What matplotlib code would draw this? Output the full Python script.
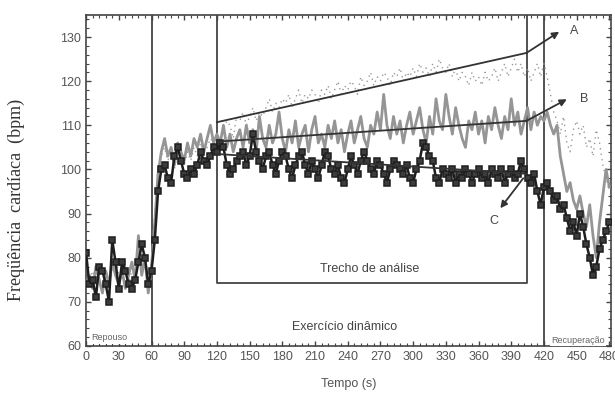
import matplotlib
matplotlib.use('Agg')
import matplotlib.pyplot as plt
from matplotlib.ticker import MultipleLocator
import numpy as np

# tempo (s), uma amostra a cada 3 s
tempo = np.arange(0, 481, 3)

# serie C - quadrados pretos
fc_C = [81, 74, 75, 71, 78, 77, 74, 70, 84, 79,
        73, 79, 77, 74, 73, 75, 79, 83, 80, 74,
        77, 84, 95, 100, 101, 98, 97, 103, 105, 102,
        99, 98, 100, 99, 101, 104, 102, 101, 103, 105,
        104, 106, 105, 101, 99, 100, 102, 103, 104, 101,
        103, 108, 104, 102, 100, 103, 104, 101, 99, 102,
        104, 103, 100, 98, 101, 103, 104, 101, 99, 102,
        100, 98, 101, 104, 103, 100, 99, 101, 98, 97,
        100, 103, 101, 99, 102, 104, 102, 100, 99, 102,
        101, 99, 97, 100, 102, 101, 100, 99, 101, 98,
        97, 100, 102, 106, 105, 103, 102, 98, 97, 100,
        99, 98, 100, 97, 99, 98, 100, 99, 97, 99,
        100, 98, 99, 97, 100, 99, 98, 100, 97, 99,
        100, 98, 99, 102, 100, 98, 97, 99, 95, 92,
        96, 97, 95, 93, 94, 91, 92, 89, 86, 88,
        85, 90, 87, 83, 80, 76, 78, 82, 84, 86,
        88]

# serie B - linha cinza
fc_B = [74, 76, 73, 78, 75, 72, 77, 74, 79, 76,
        74, 77, 73, 76, 79, 75, 85, 76, 80, 72,
        78, 88, 99, 104, 107, 103, 105, 101, 106, 104,
        102, 106, 103, 107, 105, 108, 104, 107, 110, 106,
        108, 106, 110, 105, 108, 104, 107, 109, 105, 110,
        106, 109, 104, 112, 107, 105, 110, 106, 108, 113,
        107, 104, 109, 106, 111, 105, 108, 110, 104, 109,
        112, 106, 108, 105, 110, 107, 111, 106, 109, 104,
        108, 111, 106, 109, 112, 107, 105, 110, 108, 113,
        109, 117, 110, 107, 112, 108, 111, 106, 110, 113,
        108, 111, 114, 109, 106, 112, 108, 116, 111, 109,
        117, 112, 108, 114, 110, 107, 105, 111, 109, 113,
        108, 111, 106, 112, 109, 114, 110, 107, 112, 109,
        116, 110, 113, 108, 111, 114, 109, 113, 110, 112,
        111, 113, 110, 108, 110, 103, 99, 95, 97, 93,
        91, 94, 90, 87, 92, 85, 80, 88, 94, 100,
        96]

# serie A - pontilhada
fc_A = [76, 75, 77, 74, 76, 78, 75, 73, 77, 80,
        76, 75, 78, 74, 77, 76, 80, 78, 77, 75,
        79, 90, 100, 103, 105, 102, 104, 100, 104, 103,
        101, 104, 102, 105, 103, 106, 104, 105, 107, 106,
        108, 106, 109, 111, 110, 107, 112, 111, 113, 110,
        112, 114, 111, 113, 112, 114, 116, 113, 115, 114,
        116, 115, 117, 114, 116, 118, 115, 117, 116, 118,
        117, 115, 118, 117, 119, 116, 118, 120, 117, 119,
        118, 120, 119, 117, 121, 119, 120, 122, 119, 121,
        120, 122, 121, 119, 122, 121, 123, 120, 122, 121,
        123, 121, 124, 122, 123, 121, 124, 122, 125, 123,
        122, 124, 121, 123, 120, 122, 121, 119, 122, 120,
        121, 119, 122, 120, 121, 123, 120, 122, 124, 121,
        123, 125, 122, 124, 121, 123, 120, 122, 124, 121,
        124, 121, 117, 113, 111, 108, 112, 106, 104, 109,
        111, 108, 110, 105, 107, 103, 109, 106, 101, 98,
        95]

# retas de tendencia no trecho de analise e setas dos rotulos
tend_A = ([120, 404], [110.7, 126.4])
tend_B = ([120, 404], [106.3, 111.0])
tend_C = ([120, 404], [103.5, 99.0])
seta_A = ((404, 126.4), (434, 131.2))
seta_B = ((404, 111.0), (441, 115.9))
seta_C = ((401, 98.0), (380, 91.2))
rotulos = {'A': (444, 131.3), 'B': (453, 116.0), 'C': (370, 88.4)}

# fases do protocolo
limites_fase = [60, 420]
trecho = (120, 404, 74.3)


def main():
    cinza = '#444444'
    plt.rcParams['font.family'] = ['Liberation Sans', 'DejaVu Sans']
    fig = plt.figure(figsize=(6.15, 3.94), dpi=100)
    ax = fig.add_axes([0.140, 0.122, 0.854, 0.840])

    ax.plot(tempo, fc_A, ls=(0, (1, 3)), color='#999999', lw=1.0, zorder=2)
    ax.plot(tempo, fc_B, color='#959595', lw=2.0, zorder=3)
    ax.plot(tempo, fc_C, color='#1e1e1e', lw=1.8, marker='s', ms=5,
            mfc='#3c3c3c', mec='#1e1e1e', mew=1.1, zorder=4)

    for xs, ys in (tend_A, tend_B, tend_C):
        ax.plot(xs, ys, color='#333333', lw=1.3, zorder=5)
    for ini, fim in (seta_A, seta_B, seta_C):
        ax.annotate('', xy=fim, xytext=ini, zorder=6,
                    arrowprops=dict(arrowstyle='-|>', color='#333333', lw=1.3,
                                    mutation_scale=10, shrinkA=0, shrinkB=0))
    for txt, pos in rotulos.items():
        ax.text(pos[0], pos[1], txt, color=cinza, fontsize=9, ha='left', va='center')

    for x in limites_fase:
        ax.axvline(x, color=cinza, lw=1.3, zorder=1)
    x0, x1, yb = trecho
    ax.plot([x0, x0, x1, x1], [135, yb, yb, 135], color=cinza, lw=1.3, zorder=1)

    ax.text(260, 77.4, 'Trecho de análise', color=cinza, fontsize=9, ha='center', va='center')
    ax.text(237, 64.2, 'Exercício dinâmico', color=cinza, fontsize=9, ha='center', va='center')
    ax.text(5, 61.8, 'Repouso', color='#666666', fontsize=6.5, ha='left', va='center',
            bbox=dict(fc='white', ec='none', pad=1))
    ax.text(451, 61.2, 'Recuperação', color='#666666', fontsize=6.5, ha='center', va='center',
            bbox=dict(fc='white', ec='none', pad=1))

    ax.set_xlim(0, 481.8)
    ax.set_ylim(60, 135)
    ax.xaxis.set_major_locator(MultipleLocator(30))
    ax.xaxis.set_minor_locator(MultipleLocator(6))
    ax.yaxis.set_major_locator(MultipleLocator(10))
    ax.yaxis.set_minor_locator(MultipleLocator(2))
    ax.yaxis.set_major_formatter(lambda v, p: '%d' % v if v <= 130 else '')
    ax.tick_params(which='both', direction='in', top=True, right=True,
                   colors=cinza, labelcolor='#555555', labelsize=9)
    ax.tick_params(which='major', length=3.5, width=1)
    ax.tick_params(which='minor', length=2, width=0.8)
    for s in ax.spines.values():
        s.set_color(cinza)
        s.set_linewidth(1.2)

    ax.set_xlabel('Tempo (s)', color='#555555', fontsize=9, labelpad=11)
    ax.set_ylabel('Freqüência  cardíaca  (bpm)', family=['Liberation Serif', 'DejaVu Serif'],
                  color='#333333', fontsize=13)
    ax.yaxis.set_label_coords(-0.117, 0.44)

    fig.savefig('out.png', dpi=100)


if __name__ == '__main__':
    main()
